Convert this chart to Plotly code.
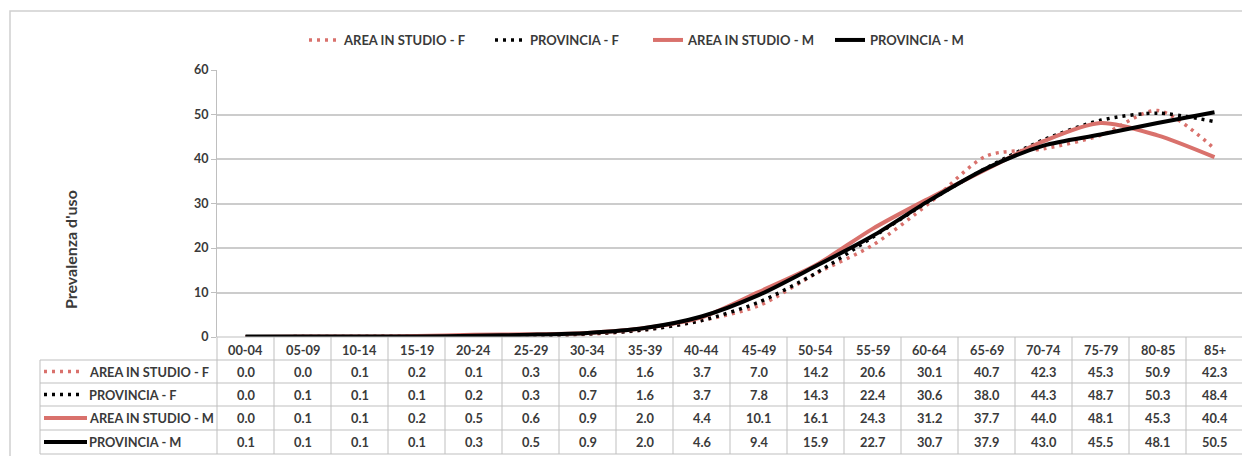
import plotly.graph_objects as go

categories = ["00-04", "05-09", "10-14", "15-19", "20-24", "25-29", "30-34", "35-39", "40-44",
              "45-49", "50-54", "55-59", "60-64", "65-69", "70-74", "75-79", "80-85", "85+"]
series_names = ["AREA IN STUDIO - F", "PROVINCIA - F", "AREA IN STUDIO - M", "PROVINCIA - M"]
area_f = [0.0, 0.0, 0.1, 0.2, 0.1, 0.3, 0.6, 1.6, 3.7, 7.0, 14.2, 20.6, 30.1, 40.7, 42.3, 45.3, 50.9, 42.3]
prov_f = [0.0, 0.1, 0.1, 0.1, 0.2, 0.3, 0.7, 1.6, 3.7, 7.8, 14.3, 22.4, 30.6, 38.0, 44.3, 48.7, 50.3, 48.4]
area_m = [0.0, 0.1, 0.1, 0.2, 0.5, 0.6, 0.9, 2.0, 4.4, 10.1, 16.1, 24.3, 31.2, 37.7, 44.0, 48.1, 45.3, 40.4]
prov_m = [0.1, 0.1, 0.1, 0.1, 0.3, 0.5, 0.9, 2.0, 4.6, 9.4, 15.9, 22.7, 30.7, 37.9, 43.0, 45.5, 48.1, 50.5]
y_ticks = [0, 10, 20, 30, 40, 50, 60]

RED = "#d9716c"
BLACK = "#000000"
TXT = "#3a3a3a"
GRID = "#cccccc"
FONT = "Lato"

# the page body adds an 8px offset; work in screen pixels and convert
OFF = 8
W, H = 1250 - OFF, 456 - OFF
SX0, SX1 = 217, 1243      # plot area left/right (screen px)
SY0, SY1 = 70, 337        # plot area top/bottom (screen px)
L, R = SX0 - OFF, W - (SX1 - OFF)
T, B = SY0 - OFF, H - (SY1 - OFF)
PW = SX1 - SX0
PH = SY1 - SY0


def px(x):
    return (x - SX0) / PW


def py(y):
    return (SY1 - y) / PH


styles = [
    dict(color=RED, width=3.5, dash="3px,5px"),
    dict(color=BLACK, width=3.5, dash="3px,5px"),
    dict(color=RED, width=4),
    dict(color=BLACK, width=4),
]
all_series = [area_f, prov_f, area_m, prov_m]
legend_ids = ["legend", "legend2", "legend3", "legend4"]
legend_x = [304, 490, 648, 830]   # screen px of each legend entry

fig = go.Figure()
for name, vals, st, lid in zip(series_names, all_series, styles, legend_ids):
    fig.add_trace(go.Scatter(
        x=list(range(len(categories))), y=vals, name=name, mode="lines",
        line=dict(shape="spline", smoothing=0.8, **st),
        hoverinfo="skip", legend=lid,
    ))

shapes = []
annotations = []

shapes.append(dict(type="rect", xref="paper", yref="paper",
                   x0=px(10), x1=px(1262), y0=py(11), y1=py(470),
                   line=dict(color="#d0d0d0", width=1.5), layer="below"))

col_w = PW / len(categories)
row_tops = [337, 360, 383, 406, 430, 454]
tab_left = 40
tab_right = SX1
grid_line = dict(color="#bfbfbf", width=1)
tfont = dict(family=FONT, size=12.8, color=TXT, weight="bold")

shapes.append(dict(type="line", xref="paper", yref="paper", x0=px(SX0), x1=px(tab_right),
                   y0=py(row_tops[0]), y1=py(row_tops[0]), line=grid_line))
for yy in row_tops[1:]:
    shapes.append(dict(type="line", xref="paper", yref="paper", x0=px(tab_left), x1=px(tab_right),
                       y0=py(yy), y1=py(yy), line=grid_line))
shapes.append(dict(type="line", xref="paper", yref="paper", x0=px(tab_left), x1=px(tab_left),
                   y0=py(row_tops[1]), y1=py(row_tops[-1]), line=grid_line))
for i in range(len(categories) + 1):
    xx = SX0 + i * col_w
    shapes.append(dict(type="line", xref="paper", yref="paper", x0=px(xx), x1=px(xx),
                       y0=py(row_tops[0]), y1=py(row_tops[-1]), line=grid_line))

for i, c in enumerate(categories):
    annotations.append(dict(xref="paper", yref="paper", x=px(SX0 + (i + 0.5) * col_w),
                            y=py((row_tops[0] + row_tops[1]) / 2 + 1), text=c, showarrow=False,
                            xanchor="center", yanchor="middle", font=tfont))

for r, (name, vals, st) in enumerate(zip(series_names, all_series, styles)):
    yc = (row_tops[r + 1] + row_tops[r + 2]) / 2
    key = dict(color=st["color"], width=st["width"])
    if "dash" in st:
        key["dash"] = st["dash"]
        x0k, x1k = 44, 79
    else:
        x0k, x1k = 44, 87
    shapes.append(dict(type="line", xref="paper", yref="paper", x0=px(x0k), x1=px(x1k),
                       y0=py(yc), y1=py(yc), line=key))
    annotations.append(dict(xref="paper", yref="paper", x=px(87), y=py(yc),
                            xanchor="left", yanchor="middle", text=name, showarrow=False,
                            font=tfont))
    for i, v in enumerate(vals):
        annotations.append(dict(xref="paper", yref="paper", x=px(SX0 + (i + 0.5) * col_w), y=py(yc),
                                xanchor="center", yanchor="middle",
                                text=f"{v:.1f}", showarrow=False, font=tfont))

annotations.append(dict(xref="paper", yref="paper", x=px(70), y=py(250), text="Prevalenza d'uso",
                        textangle=-90, showarrow=False, xanchor="center", yanchor="middle",
                        font=dict(family=FONT, size=16, color=TXT, weight="bold")))

legend_layout = {}
for lid, lx in zip(legend_ids, legend_x):
    legend_layout[lid] = dict(orientation="h", x=px(lx), y=py(40), xanchor="left", yanchor="middle",
                              font=dict(family=FONT, size=13, color=TXT, weight="bold"),
                              itemwidth=30, bgcolor="rgba(0,0,0,0)")

fig.update_layout(
    width=W, height=H,
    margin=dict(l=L, r=R, t=T, b=B, autoexpand=False),
    paper_bgcolor="white", plot_bgcolor="white",
    showlegend=True,
    xaxis=dict(range=[-0.5, len(categories) - 0.5], showticklabels=False, showgrid=False,
               zeroline=False, showline=False, ticks=""),
    yaxis=dict(range=[0, 60], tickvals=y_ticks, showgrid=True, gridcolor=GRID, gridwidth=1.5,
               zeroline=False, showline=True, linecolor="#bfbfbf", linewidth=1,
               ticks="outside", ticklen=5, tickcolor="#bfbfbf",
               tickfont=dict(family=FONT, size=12.5, color=TXT, weight="bold")),
    shapes=shapes, annotations=annotations,
    **legend_layout,
)

fig.write_html("out.html")
